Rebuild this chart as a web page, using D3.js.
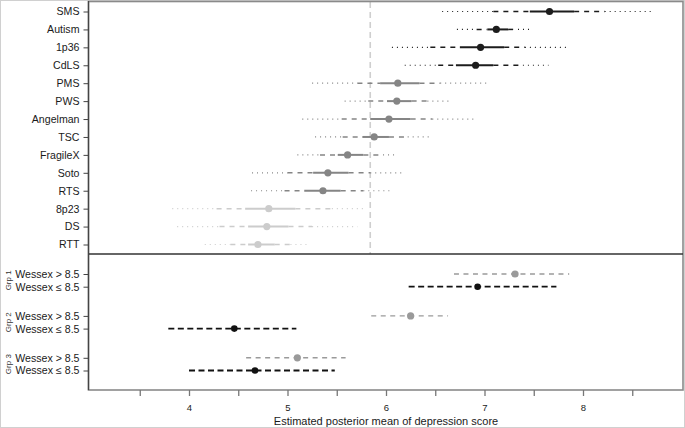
<!DOCTYPE html>
<html>
<head>
<meta charset="utf-8">
<script src="https://cdn.jsdelivr.net/npm/d3@7"></script>
<style>
  html, body { margin: 0; padding: 0; background: #fff; }
  svg { display: block; font-family: "Liberation Sans", Arial, Helvetica, sans-serif; }
</style>
</head>
<body>
<svg id="chart" width="685" height="428"></svg>
<script>
// ---------- data ----------
const conditions = ["SMS","Autism","1p36","CdLS","PMS","PWS","Angelman","TSC","FragileX","Soto","RTS","8p23","DS","RTT"];
const lo95  = [6.57, 6.72, 6.06, 6.19, 5.25, 5.58, 5.15, 5.28, 5.10, 4.64, 4.63, 3.83, 3.88, 4.16];
const lo80  = [7.09, 6.92, 6.45, 6.53, 5.71, 5.82, 5.55, 5.56, 5.33, 5.00, 4.97, 4.28, 4.31, 4.42];
const lo50  = [7.46, 7.03, 6.75, 6.71, 5.94, 6.01, 5.84, 5.76, 5.51, 5.26, 5.17, 4.57, 4.60, 4.60];
const means = [7.66, 7.12, 6.96, 6.91, 6.12, 6.11, 6.03, 5.88, 5.61, 5.41, 5.36, 4.81, 4.79, 4.70];
const hi50  = [7.91, 7.24, 7.20, 7.09, 6.34, 6.26, 6.25, 6.03, 5.77, 5.62, 5.54, 5.08, 5.01, 4.87];
const hi80  = [8.22, 7.34, 7.41, 7.39, 6.55, 6.42, 6.47, 6.22, 5.97, 5.84, 5.77, 5.45, 5.25, 5.03];
const hi95  = [8.70, 7.48, 7.86, 7.65, 7.04, 6.64, 6.92, 6.45, 6.12, 6.17, 6.07, 5.80, 5.71, 5.21];
const tier  = [0, 0, 0, 0, 1, 1, 1, 1, 1, 1, 1, 2, 2, 2];   // shade group
const overallMean = 5.84;

const groups = ["Grp 1","Grp 2","Grp 3"];
const wessex = ["Wessex > 8.5","Wessex \u2264 8.5"];
const grpLo   = [[6.69, 6.23], [5.85, 3.79], [4.58, 4.00]];
const grpMean = [[7.31, 6.93], [6.25, 4.46], [5.10, 4.67]];
const grpHi   = [[7.86, 7.73], [6.63, 5.09], [5.59, 5.48]];

const xTicks = [3.5, 4, 4.5, 5, 5.5, 6, 6.5, 7, 7.5, 8, 8.5];
const xTitle = "Estimated posterior mean of depression score";

// ---------- layout ----------
const svg = d3.select("#chart");
const L = 88.5, R = 683, T = 2, MID = 254, B = 390;
const tierColor = ["#1c1c1c", "#858585", "#cccccc"];
const subColor = ["#9a9a9a", "#111111"];

const x = d3.scaleLinear().domain([4, 8]).range([189, 583]);
const yTop = d3.scalePoint().domain(conditions).range([11.5, 244.5]);
const yBot = d3.scaleLinear().domain([0, 7.6]).range([274, 370.5]);
const grpStep = 3.3;

// outer image border
svg.append("rect").attr("x", 0.5).attr("y", 0.5).attr("width", 684).attr("height", 427)
  .attr("fill", "none").attr("stroke", "#d0d0d0").attr("stroke-width", 1);

// reference dashed line (top panel)
svg.append("line")
  .attr("x1", x(overallMean)).attr("x2", x(overallMean))
  .attr("y1", T).attr("y2", MID)
  .attr("stroke", "#cfcfcf").attr("stroke-width", 1.6).attr("stroke-dasharray", "6,4");

// ---------- top panel intervals ----------
const topG = svg.append("g");
conditions.forEach((c, i) => {
  const y = yTop(c);
  const col = tierColor[tier[i]];
  const segs = [
    [lo95[i], lo80[i], "1,4", 1.2],
    [lo80[i], lo50[i], "5,5", 1.5],
    [lo50[i], hi50[i], null, 2],
    [hi50[i], hi80[i], "5,5", 1.5],
    [hi80[i], hi95[i], "1,4", 1.2]
  ];
  segs.forEach(([a, b, dash, w]) => {
    const ln = topG.append("line")
      .attr("x1", x(a)).attr("x2", x(b)).attr("y1", y).attr("y2", y)
      .attr("stroke", col).attr("stroke-width", w);
    if (dash) ln.attr("stroke-dasharray", dash);
  });
  topG.append("circle").attr("cx", x(means[i])).attr("cy", y).attr("r", 3.6).attr("fill", col);
});

// ---------- bottom panel intervals ----------
const botG = svg.append("g");
groups.forEach((g, gi) => {
  wessex.forEach((w, si) => {
    const y = yBot(gi * grpStep + si);
    const col = subColor[si];
    botG.append("line")
      .attr("x1", x(grpLo[gi][si])).attr("x2", x(grpHi[gi][si]))
      .attr("y1", y).attr("y2", y)
      .attr("stroke", col).attr("stroke-width", si === 1 ? 1.8 : 1.4)
      .attr("stroke-dasharray", si === 1 ? "6,3.5" : "5,4.5");
    botG.append("circle").attr("cx", x(grpMean[gi][si])).attr("cy", y)
      .attr("r", si === 1 ? 3.3 : 3.6).attr("fill", col);
  });
});

// ---------- frame ----------
svg.append("rect").attr("x", L).attr("y", T - 0.5).attr("width", R - L).attr("height", B - T + 0.5)
  .attr("fill", "none").attr("stroke", "#8a8a8a").attr("stroke-width", 1.6);
svg.append("line").attr("x1", L).attr("x2", R).attr("y1", MID).attr("y2", MID)
  .attr("stroke", "#333").attr("stroke-width", 1.4);
svg.append("line").attr("x1", L).attr("x2", L).attr("y1", T - 1).attr("y2", B)
  .attr("stroke", "#444").attr("stroke-width", 1.3);

// ---------- axes ----------
const yAxisTop = svg.append("g").attr("transform", `translate(${L},0)`)
  .call(d3.axisLeft(yTop).tickSize(5).tickPadding(4));
const botPositions = [];
const botLabels = [];
groups.forEach((g, gi) => wessex.forEach((w, si) => { botPositions.push(gi * grpStep + si); botLabels.push(w); }));
const yAxisBot = svg.append("g").attr("transform", `translate(${L},0)`)
  .call(d3.axisLeft(yBot).tickValues(botPositions).tickFormat((d, i) => botLabels[i]).tickSize(5).tickPadding(4));
[yAxisTop, yAxisBot].forEach(ax => {
  ax.select(".domain").remove();
  ax.selectAll(".tick line").attr("stroke", "#444");
  ax.selectAll(".tick text").attr("fill", "#1a1a1a").style("font-size", "10.6px")
    .style("font-family", '"Liberation Sans", Arial, sans-serif');
});

const xAxis = svg.append("g").attr("transform", `translate(0,${B})`)
  .call(d3.axisBottom(x).tickValues(xTicks)
    .tickFormat(d => Number.isInteger(d) ? d3.format("d")(d) : "")
    .tickSize(6).tickPadding(8));
xAxis.select(".domain").remove();
xAxis.selectAll(".tick line").attr("stroke", "#777").attr("stroke-width", 1.3);
xAxis.selectAll(".tick text").attr("fill", "#222").style("font-size", "9.5px")
  .style("font-family", '"Liberation Sans", Arial, sans-serif');

// group labels (rotated)
groups.forEach((g, gi) => {
  const yc = yBot(gi * grpStep + 0.5);
  svg.append("text")
    .attr("transform", `translate(10.5,${yc}) rotate(-90)`)
    .attr("text-anchor", "middle")
    .attr("fill", "#333")
    .style("font-size", "8px")
    .text(g);
});

// x axis title
svg.append("text")
  .attr("x", x(6)).attr("y", 425)
  .attr("text-anchor", "middle")
  .attr("fill", "#1a1a1a")
  .style("font-size", "11px")
  .text(xTitle);
</script>
</body>
</html>
